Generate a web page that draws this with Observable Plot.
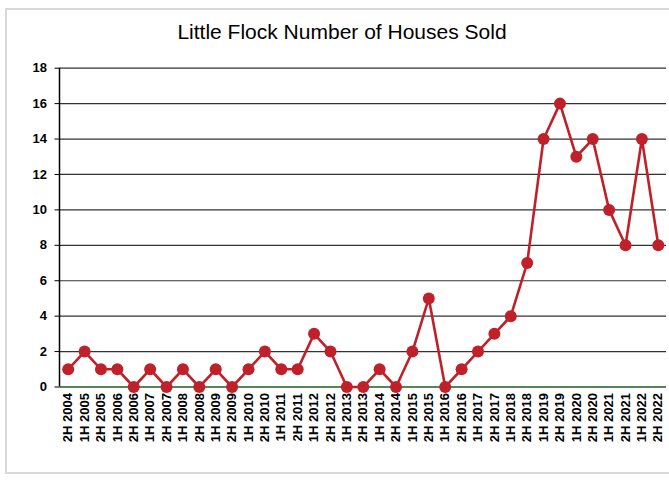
<!DOCTYPE html>
<html>
<head>
<meta charset="utf-8">
<script src="https://cdn.jsdelivr.net/npm/d3@7"></script>
<script src="https://cdn.jsdelivr.net/npm/@observablehq/plot@0.6"></script>
<style>
  html, body { margin: 0; padding: 0; background: #fff; }
  #wrap { position: relative; width: 669px; height: 483px; overflow: hidden; background: #fff; }
  #frame { position: absolute; left: 5px; top: 8px; width: 680px; height: 466px; border: 2px solid #d9d9d9; box-sizing: border-box; }
  #title { position: absolute; left: 0; width: 684px; top: 20px; text-align: center; font-family: "Liberation Sans", Arial, sans-serif; font-size: 21px; color: #000; }
  #chart { position: absolute; left: 0; top: 0; }
</style>
</head>
<body>
<div id="wrap">
  <div id="frame"></div>
  <div id="title">Little Flock Number of Houses Sold</div>
  <div id="chart"></div>
</div>
<script>
const periods = [
  "2H 2004",
  "1H 2005","2H 2005","1H 2006","2H 2006","1H 2007","2H 2007","1H 2008","2H 2008",
  "1H 2009","2H 2009","1H 2010","2H 2010","1H 2011","2H 2011","1H 2012","2H 2012",
  "1H 2013","2H 2013","1H 2014","2H 2014","1H 2015","2H 2015","1H 2016","2H 2016",
  "1H 2017","2H 2017","1H 2018","2H 2018","1H 2019","2H 2019","1H 2020","2H 2020",
  "1H 2021","2H 2021","1H 2022","2H 2022"
];
const housesSold = [
  1,
  2,1,1,0,1,0,1,0,
  1,0,1,2,1,1,3,2,
  0,0,1,0,2,5,0,1,
  2,3,4,7,14,16,13,14,
  10,8,14,8
];
const yTicks = [0,2,4,6,8,10,12,14,16,18];

const data = periods.map((p, i) => ({period: p, value: housesSold[i]}));

const chart = Plot.plot({
  width: 669,
  height: 483,
  marginLeft: 59.5,
  marginRight: 3,
  marginTop: 67.7,
  marginBottom: 96.5,
  style: {background: "transparent", fontFamily: "'Liberation Sans', Arial, sans-serif", fontSize: "13px", fontWeight: "bold", color: "#000"},
  x: {type: "point", domain: periods, padding: 0.5, align: 0.5, round: false},
  y: {domain: [0, 18]},
  marks: [
    Plot.ruleY(yTicks.filter(t => t > 0), {stroke: "#333", strokeWidth: 1.2, strokeOpacity: 1}),
    Plot.ruleY([0], {stroke: "#1e5c1e", strokeWidth: 1.3}),
    Plot.axisY({ticks: yTicks, tickSize: 5, tickPadding: 8, stroke: "#000", fontSize: 13, fontWeight: "bold", label: null}),
    Plot.axisX({tickRotate: -90, tickSize: 0, tickPadding: 6, fontSize: 13, fontWeight: "bold", label: null}),
    Plot.line(data, {x: "period", y: "value", stroke: "#c0202a", strokeWidth: 2.6}),
    Plot.dot(data, {x: "period", y: "value", r: 6, fill: "#c0202a", stroke: "none"})
  ]
});
document.getElementById("chart").appendChild(chart);
// y axis line
const svg = d3.select(chart);
svg.append("line").attr("x1", 59.5).attr("x2", 59.5).attr("y1", 67.7).attr("y2", 386.5).attr("stroke", "#000").attr("stroke-width", 1.5);
</script>
</body>
</html>
